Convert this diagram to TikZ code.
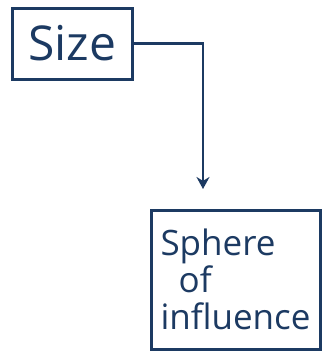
\documentclass[tikz,border=0pt]{standalone}
\usepackage{fontspec}
\setmainfont{Open Sans}
\usetikzlibrary{arrows.meta}
\definecolor{ink}{RGB}{28,58,98}
\tikzset{
  box/.style = {draw = ink, line width = 3pt, text = ink, inner sep = 1pt},
  link/.style = {draw = ink, line width = 2.6pt, -{Stealth[length = 12pt, width = 13pt]}}
}
\begin{document}
\begin{tikzpicture}[x = 1pt, y = -1pt]
      \useasboundingbox (0,0) rectangle (323,351);
      \node[box, minimum width = 120pt, minimum height = 71pt, font = \fontsize{48}{52}\selectfont] (size) at (72,43.5) {Size};
      \node[box, minimum width = 169pt, minimum height = 139pt, align = left, font = \fontsize{35}{37}\selectfont] (sphere) at (235.5,279.5) {Sphere\\\ \ of\\influence};
      \coordinate (tip) at (203,189);
      \draw[link] (size.east) -| (tip);
    \end{tikzpicture}
\end{document}
